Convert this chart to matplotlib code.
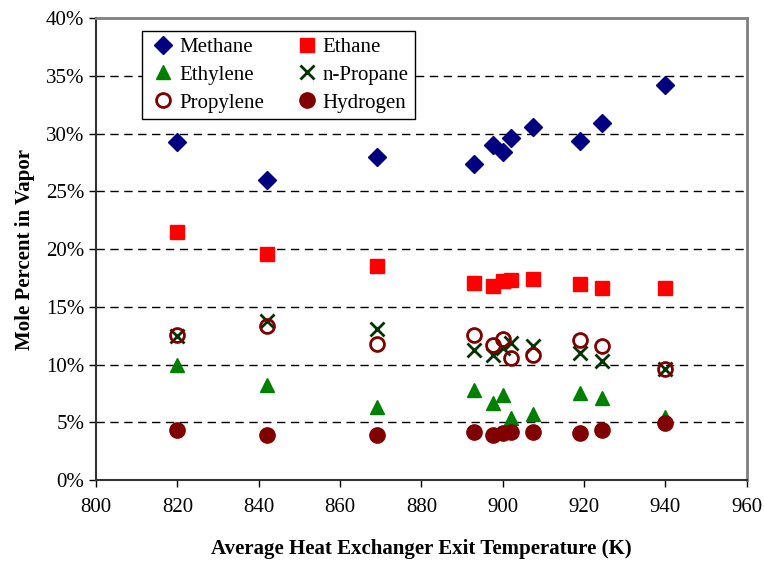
import matplotlib.pyplot as plt
from matplotlib.ticker import FuncFormatter

# Average heat exchanger exit temperature (K)
temps = [820, 842, 869, 893, 897.5, 900, 902, 907.5, 919, 924.5, 940]

# Mole percent in vapor
methane = [29.3, 26.0, 28.0, 27.4, 29.0, 28.4, 29.6, 30.6, 29.4, 30.9, 34.2]
ethane = [21.5, 19.6, 18.5, 17.1, 16.8, 17.2, 17.3, 17.4, 17.0, 16.6, 16.6]
ethylene = [10.0, 8.2, 6.3, 7.8, 6.7, 7.4, 5.4, 5.7, 7.5, 7.1, 5.5]
n_propane = [12.5, 13.8, 13.1, 11.3, 10.8, 11.4, 11.9, 11.6, 11.0, 10.3, 9.6]
propylene = [12.6, 13.3, 11.8, 12.6, 11.7, 12.2, 10.6, 10.8, 12.1, 11.6, 9.6]
hydrogen = [4.3, 3.9, 3.9, 4.2, 3.9, 4.1, 4.2, 4.2, 4.1, 4.3, 4.9]

plt.rcParams['font.family'] = ['Liberation Serif', 'DejaVu Serif']

fig = plt.figure(figsize=(7.64, 5.61), dpi=100)
ax = fig.add_axes([0.1257, 0.1444, 0.8516, 0.823])

ms = 10
h_me, = ax.plot(temps, methane, ls='none', marker='D', ms=ms * 0.9, color='#000080', label='Methane', zorder=3)
h_et, = ax.plot(temps, ethane, ls='none', marker='s', ms=ms, color='#FF0000', label='Ethane', zorder=3)
h_el, = ax.plot(temps, ethylene, ls='none', marker='^', ms=ms, color='#008000', label='Ethylene', zorder=3)
h_np, = ax.plot(temps, n_propane, ls='none', marker='x', ms=ms, mew=2, color='#003300', label='n-Propane', zorder=3)
h_pr, = ax.plot(temps, propylene, ls='none', marker='o', ms=ms, mew=2, mfc='none', mec='#800000', label='Propylene', zorder=3)
h_hy, = ax.plot(temps, hydrogen, ls='none', marker='o', ms=ms + 1, color='#800000', label='Hydrogen', zorder=3)

ax.set_xlim(800, 960)
ax.set_ylim(0, 40)
ax.set_xticks(range(800, 961, 20))
ax.set_yticks(range(0, 41, 5))
ax.yaxis.set_major_formatter(FuncFormatter(lambda v, p: f"{v:.0f}%"))

for y in range(5, 40, 5):
    ax.axhline(y, color='black', lw=1, ls=(0, (6, 4)), zorder=1)

ax.spines['top'].set_color('#808080')
ax.spines['right'].set_color('#808080')
ax.spines['top'].set_linewidth(2)
ax.spines['right'].set_linewidth(2)
ax.spines['left'].set_linewidth(1.5)
ax.spines['bottom'].set_linewidth(1.5)
ax.spines['left'].set_color('#333333')
ax.spines['bottom'].set_color('#333333')

ax.tick_params(axis='both', labelsize=15, direction='out', length=5, width=1)
ax.tick_params(axis='x', pad=8)

ax.set_xlabel('Average Heat Exchanger Exit Temperature (K)', fontsize=15, fontweight='bold', labelpad=16)
ax.set_ylabel('Mole Percent in Vapor', fontsize=15, fontweight='bold', labelpad=8)

# legend is filled row by row in the original
handles = [h_me, h_el, h_pr, h_et, h_np, h_hy]
leg = ax.legend(handles=handles, labels=[h.get_label() for h in handles],
                loc='upper left', bbox_to_anchor=(0.07, 0.9725), borderaxespad=0,
                ncol=2, fontsize=15, frameon=True, fancybox=False,
                edgecolor='black', framealpha=1,
                handletextpad=0.0, columnspacing=1.3, labelspacing=0.4,
                borderpad=0.3, handlelength=1.5)
leg.get_frame().set_linewidth(1)

fig.savefig('out.png', dpi=100)
